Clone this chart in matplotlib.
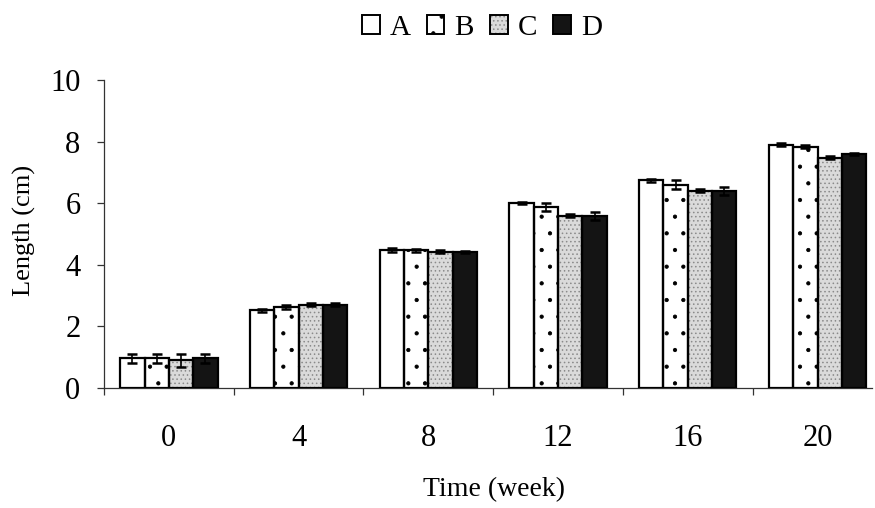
import matplotlib
matplotlib.use("Agg")
import matplotlib.pyplot as plt
from matplotlib.patches import Patch
from matplotlib.legend_handler import HandlerTuple
import numpy as np

plt.rcParams['font.family'] = ['Liberation Serif', 'DejaVu Serif']
plt.rcParams['hatch.linewidth'] = 0.6

# Mean length (cm) per treatment at each sampling week
weeks = ['0', '4', '8', '12', '16', '20']
series = ['A', 'B', 'C', 'D']
len_A = [0.97, 2.53, 4.48, 6.00, 6.74, 7.90]
len_B = [0.97, 2.63, 4.47, 5.87, 6.60, 7.84]
len_C = [0.90, 2.70, 4.43, 5.60, 6.41, 7.48]
len_D = [0.96, 2.70, 4.42, 5.58, 6.40, 7.61]
# Standard errors
err_A = [0.15, 0.05, 0.05, 0.04, 0.05, 0.04]
err_B = [0.15, 0.05, 0.05, 0.13, 0.15, 0.04]
err_C = [0.22, 0.05, 0.05, 0.05, 0.05, 0.04]
err_D = [0.16, 0.05, 0.04, 0.12, 0.13, 0.03]

values = [len_A, len_B, len_C, len_D]
errors = [err_A, err_B, err_C, err_D]

fig = plt.figure(figsize=(8.75, 5.08), dpi=100)
ax = fig.add_axes([104 / 875, 1 - 388 / 508, (872 - 104) / 875, 308 / 508])

x = np.arange(len(weeks))
w = 0.1875
edge_lw = 1.6

styles = [
    dict(face='white', hatch=None, hatch_col='black'),
    dict(face='white', hatch='.', hatch_col='black'),
    dict(face='#dadada', hatch='....', hatch_col='#8a8a8a'),
    dict(face='#141414', hatch=None, hatch_col='black'),
]

for i, (vals, errs, st) in enumerate(zip(values, errors, styles)):
    pos = x + (i - 1.5) * w
    # fill (with optional texture drawn in its own colour)
    ax.bar(pos, vals, width=w, color=st['face'], edgecolor=st['hatch_col'],
           hatch=st['hatch'], linewidth=0, zorder=2)
    # outline
    ax.bar(pos, vals, width=w, fill=False, edgecolor='black',
           linewidth=edge_lw, zorder=3)
    ax.errorbar(pos, vals, yerr=errs, fmt='none', ecolor='black',
                elinewidth=1.2, capsize=3.6, capthick=1.8, zorder=4)

ax.set_xlim(-0.5, 5.42)
ax.set_ylim(0, 10)

for s in ('top', 'right'):
    ax.spines[s].set_visible(False)
for s in ('left', 'bottom'):
    ax.spines[s].set_color('#333333')
    ax.spines[s].set_linewidth(0.9)

ax.set_yticks(np.arange(0, 11, 2))
ax.tick_params(axis='y', direction='out', length=5, width=0.9,
               color='#333333', labelsize=22, pad=12)
ax.set_xticks(x)
ax.set_xticklabels(weeks)
ax.set_xticks(np.arange(-0.5, 5.0, 1.0), minor=True)
ax.tick_params(axis='x', which='major', length=0, labelsize=22, pad=26)
ax.tick_params(axis='x', which='minor', direction='out', length=5,
               width=0.9, color='#333333')

ax.set_xlabel('Time (week)', fontsize=20)
ax.xaxis.set_label_coords(0.508, -0.29)
ax.set_ylabel('Length (cm)', fontsize=19)
ax.yaxis.set_label_coords(-0.088, 0.51)

# Legend with patterned square keys
handles = []
for st in styles:
    fill = Patch(facecolor=st['face'], edgecolor=st['hatch_col'],
                 hatch=st['hatch'], linewidth=0)
    outline = Patch(fill=False, edgecolor='black', linewidth=1.4)
    handles.append((fill, outline))

fig.legend(handles, series, loc='center', bbox_to_anchor=(0.551, 0.945),
           ncol=4, frameon=False, fontsize=21,
           handler_map={tuple: HandlerTuple(ndivide=1, pad=0)},
           handlelength=0.6, handleheight=0.6, handletextpad=0.35,
           columnspacing=0.55, borderpad=0.1)

fig.savefig('out.png', dpi=100)
